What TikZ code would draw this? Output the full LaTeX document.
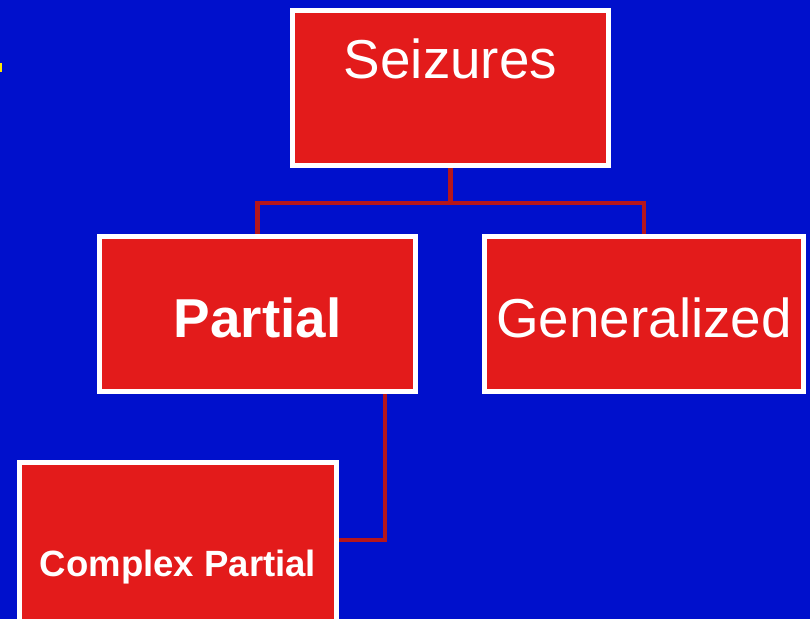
\documentclass[tikz,border=0pt]{standalone}
\usepackage{fontspec}
\setmainfont{Liberation Sans}
\usepackage{xcolor}
\usetikzlibrary{positioning, calc}
\definecolor{slideblue}{HTML}{0010CC}
\definecolor{boxred}{HTML}{E31B1B}
\definecolor{linkred}{HTML}{B5161B}
\pgfdeclarelayer{backdrop}
\pgfdeclarelayer{links}
\pgfsetlayers{backdrop,links,main}

\begin{document}
\begin{tikzpicture}[node distance=1.775cm and 1.725cm,
                    class_box/.style={rectangle, draw=white, line width=3.5pt, outer sep=0pt, fill=boxred, text=white, align=center, minimum width=7.9cm, minimum height=3.875cm, font=\fontsize{39}{47}\selectfont},
                    link/.style={draw=linkred, line width=3.5pt},
                    ]

    % Slide background
    \begin{pgfonlayer}{backdrop}
        \fill[slideblue] (0,0) rectangle (20.25,15.475);
        \fill[yellow!90!orange] (0,13.675) rectangle (0.06,13.9);
    \end{pgfonlayer}
    \useasboundingbox (0,0) rectangle (20.25,15.475);

    % Boxes
    \node[class_box, text height=0.5cm, text depth=0.95cm] (seizures) at (11.2625,13.275) {Seizures};
    \node[class_box, below=of seizures, xshift=-4.825cm, text height=1.2cm, text depth=0cm] (partial) {\bfseries Partial};
    \node[class_box, right=of partial, minimum width=7.975cm, text height=1.2cm, text depth=0cm] (generalized) {Generalized};
    \node[class_box, below=of partial, xshift=-1.9875cm, minimum width=7.925cm, minimum height=4.3cm, text height=1.6cm, text depth=0.175cm, font=\fontsize{26}{31}\selectfont\bfseries] (complex) {Complex Partial};

    % Connectors
    \coordinate (split) at ($(seizures.south) + (0,-0.9375cm)$);
    \coordinate (drop) at ($(partial.south east) + (-0.7625cm,0)$);
    \begin{pgfonlayer}{links}
        \draw[link] (seizures.south) -- (split);
        \draw[link] (partial.north) |- (split) -| (generalized.north);
        \draw[link] (drop) |- ($(complex.north east) + (0,-1.9375cm)$);
    \end{pgfonlayer}

\end{tikzpicture}
\end{document}
